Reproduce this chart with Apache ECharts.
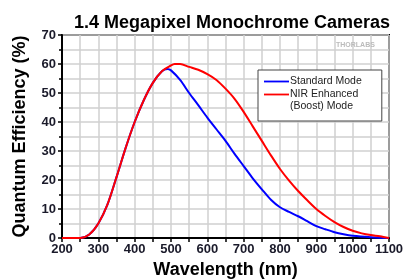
<!DOCTYPE html>
<html>
<head>
<meta charset="utf-8">
<script src="https://cdn.jsdelivr.net/npm/echarts@6/dist/echarts.min.js"></script>
<style>
  html, body { margin: 0; padding: 0; background: #fff; }
  #chart { width: 404px; height: 279px; }
</style>
</head>
<body>
<div id="chart"></div>
<script>
// wavelength (nm) and quantum efficiency (%)
const redX = [200, 250, 275, 300, 325, 350, 375, 400, 425, 450, 475, 500, 510, 525, 550, 575, 600, 625, 650, 675, 700, 725, 750, 775, 800, 825, 850, 875, 900, 925, 950, 975, 1000, 1025, 1050, 1075, 1100]
const redY = [0, 0, 1.2, 5, 11.5, 21, 31, 40, 47.5, 53.5, 57.5, 59.5, 60, 60, 59, 58, 56.5, 54.5, 51.5, 48, 43.5, 38.5, 33.5, 28.5, 23.8, 19.8, 16.2, 13, 10, 7.6, 5.5, 3.8, 2.5, 1.6, 1, 0.6, 0]

const blueX = [200, 250, 275, 300, 325, 350, 375, 400, 425, 450, 475, 490, 500, 525, 550, 575, 600, 625, 650, 675, 700, 725, 750, 775, 800, 825, 850, 875, 900, 925, 950, 975, 1000, 1050, 1100]
const blueY = [0, 0, 1.2, 5, 11.5, 21, 31, 40, 47.5, 53.5, 57.5, 58.3, 57.8, 54.5, 50, 45.8, 41.5, 37.5, 33.5, 29, 24.8, 20.6, 16.8, 13.2, 10.6, 9, 7.5, 5.8, 4.1, 3, 2, 1.3, 0.8, 0.3, 0]

const xTicks = { min: 200, max: 1100, interval: 100 }
const yTicks = { min: 0, max: 70, interval: 10 }

const zip = (xs, ys) => xs.map((x, i) => [x, ys[i]])

const myChart = echarts.init(document.getElementById('chart'))

const axisLabelStyle = {
  color: '#1a1a2a',
  fontFamily: 'Liberation Sans, Arial',
  fontWeight: 'bold',
  fontSize: 13
}

const option = {
  animation: false,
  title: {
    text: '1.4 Megapixel Monochrome Cameras',
    left: 227,
    textAlign: 'center',
    top: 9,
    textStyle: {
      fontFamily: 'Liberation Sans, Arial',
      fontWeight: 'bold',
      fontSize: 18,
      color: '#000'
    }
  },
  legend: {
    data: ['Standard Mode', 'NIR Enhanced'],
    orient: 'vertical',
    left: 258,
    top: 70,
    padding: [6, 20, 21, 6],
    itemGap: 2,
    itemWidth: 25,
    itemHeight: 10,
    icon: 'path://M0,0 L25,0 L25,1.8 L0,1.8 Z',
    backgroundColor: '#fff',
    borderColor: '#444',
    borderWidth: 1,
    textStyle: {
      fontFamily: 'Liberation Sans, Arial',
      fontSize: 10.5,
      color: '#222',
      padding: [0, 0, 0, -4]
    }
  },
  graphic: [
    {
      type: 'text',
      left: 290,
      top: 101,
      z: 100,
      style: {
        text: '(Boost) Mode',
        font: '10.5px Liberation Sans, Arial',
        fill: '#222'
      }
    },
    {
      type: 'text',
      left: 336,
      top: 42,
      z: 100,
      style: {
        text: 'THORLABS',
        font: 'bold 7px Liberation Sans, Arial',
        fill: '#bbb'
      }
    }
  ],
  grid: {
    left: 62,
    right: 15,
    top: 35,
    bottom: 41,
    outerBoundsMode: 'none',
    containLabel: false,
    show: true,
    borderColor: '#000',
    borderWidth: 2,
    backgroundColor: 'transparent'
  },
  xAxis: {
    type: 'value',
    min: xTicks.min,
    max: xTicks.max,
    interval: xTicks.interval,
    name: 'Wavelength (nm)',
    nameLocation: 'middle',
    nameGap: 20,
    nameTextStyle: {
      fontFamily: 'Liberation Sans, Arial',
      fontWeight: 'bold',
      fontSize: 18,
      color: '#000'
    },
    axisLine: { lineStyle: { color: '#000', width: 2 } },
    axisTick: { show: true, length: 4, lineStyle: { color: '#000', width: 1.5 } },
    minorTick: { show: true, splitNumber: 2, length: 4, lineStyle: { color: '#000', width: 1.5 } },
    splitLine: { show: true, lineStyle: { color: '#d0d0d0', width: 1.5 } },
    minorSplitLine: { show: true, lineStyle: { color: '#d0d0d0', width: 1.5 } },
    axisLabel: Object.assign({ margin: 5, showMaxLabel: true, formatter: v => String(v) }, axisLabelStyle)
  },
  yAxis: {
    type: 'value',
    min: yTicks.min,
    max: yTicks.max,
    interval: yTicks.interval,
    name: 'Quantum Efficiency (%)',
    nameLocation: 'middle',
    nameGap: 33,
    nameTextStyle: {
      fontFamily: 'Liberation Sans, Arial',
      fontWeight: 'bold',
      fontSize: 18,
      color: '#000'
    },
    axisLine: { show: true, lineStyle: { color: '#000', width: 2 } },
    axisTick: { show: true, length: 4, lineStyle: { color: '#000', width: 1.5 } },
    minorTick: { show: true, splitNumber: 2, length: 3, lineStyle: { color: '#000', width: 1.5 } },
    splitLine: { show: true, lineStyle: { color: '#d0d0d0', width: 1.5 } },
    minorSplitLine: { show: true, lineStyle: { color: '#d0d0d0', width: 1.5 } },
    axisLabel: Object.assign({ margin: 6 }, axisLabelStyle)
  },
  series: [
    {
      name: 'Standard Mode',
      type: 'line',
      smooth: 0.3,
      showSymbol: false,
      data: zip(blueX, blueY),
      itemStyle: { color: '#0000ff' },
      lineStyle: { color: '#0000ff', width: 2 },
      z: 3
    },
    {
      name: 'NIR Enhanced',
      type: 'line',
      smooth: 0.3,
      showSymbol: false,
      data: zip(redX, redY),
      itemStyle: { color: '#ff0000' },
      lineStyle: { color: '#ff0000', width: 2 },
      z: 4
    }
  ]
}

myChart.setOption(option)
</script>
</body>
</html>
